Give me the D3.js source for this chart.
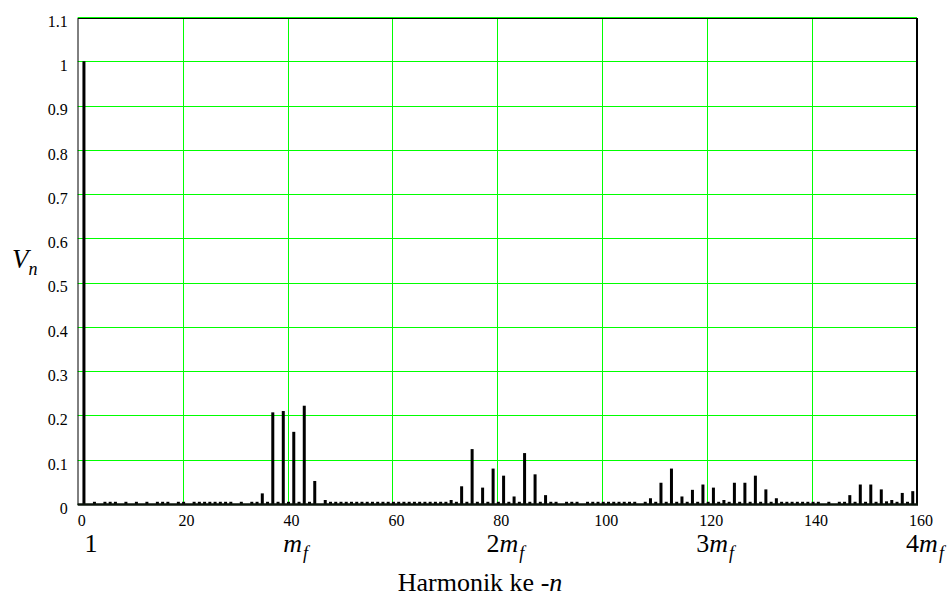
<!DOCTYPE html>
<html>
<head>
<meta charset="utf-8">
<script src="https://cdn.jsdelivr.net/npm/d3@7"></script>
</head>
<body style="margin:0">
<svg width="951" height="596"></svg>
<script>
// harmonic amplitudes V_n for n = 1 .. 160
var harmonicValues = [
  1.000, 0,     0.005, 0,     0.005, 0.005, 0.005, 0,     0.005, 0,      // 1-10
  0.005, 0,     0.005, 0,     0.005, 0.005, 0.005, 0,     0.005, 0.005,  // 11-20
  0,     0.005, 0.005, 0.005, 0.005, 0.005, 0.005, 0.005, 0.005, 0,      // 21-30
  0.005, 0,     0.005, 0.005, 0.024, 0.005, 0.207, 0.005, 0.210, 0.005,  // 31-40
  0.163, 0.005, 0.222, 0.005, 0.052, 0,     0.009, 0.005, 0.005, 0.005,  // 41-50
  0.005, 0.005, 0.005, 0.005, 0.005, 0.005, 0.005, 0.005, 0.005, 0.005,  // 51-60
  0.005, 0.005, 0.005, 0.005, 0.005, 0.005, 0.005, 0.005, 0.005, 0.005,  // 61-70
  0.009, 0.005, 0.040, 0.005, 0.124, 0.005, 0.037, 0.005, 0.080, 0.005,  // 71-80
  0.064, 0.005, 0.017, 0.005, 0.115, 0.005, 0.067, 0.005, 0.020, 0.005,  // 81-90
  0.005, 0,     0.005, 0.005, 0.005, 0,     0.005, 0.005, 0.005, 0.005,  // 91-100
  0.005, 0.005, 0.005, 0.005, 0.005, 0.005, 0,     0.005, 0.013, 0.005,  // 101-110
  0.048, 0.005, 0.080, 0.005, 0.017, 0.005, 0.032, 0.005, 0.044, 0.005,  // 111-120
  0.037, 0.005, 0.009, 0.005, 0.048, 0.005, 0.048, 0.005, 0.064, 0.005,  // 121-130
  0.033, 0.005, 0.013, 0.005, 0.005, 0.005, 0.005, 0.005, 0.005, 0.005,  // 131-140
  0.005, 0,     0.005, 0,     0.005, 0.005, 0.020, 0.005, 0.044, 0.005,  // 141-150
  0.044, 0.005, 0.033, 0.006, 0.009, 0.005, 0.025, 0.005, 0.029, 0       // 151-160
];

var xTickValues = [0, 20, 40, 60, 80, 100, 120, 140, 160];
var yTickValues = [0, 0.1, 0.2, 0.3, 0.4, 0.5, 0.6, 0.7, 0.8, 0.9, 1, 1.1];
var yTickLabels = ["0", "0.1", "0.2", "0.3", "0.4", "0.5", "0.6", "0.7", "0.8", "0.9", "1", "1.1"];

// multiples of the frequency ratio m_f written under the axis
var markerHarmonics = [1, 40, 80, 120, 160];
var markerPrefix = ["1", "", "2", "3", "4"];
var markerHasMf = [false, true, true, true, true];

var serif = "'Liberation Serif', serif";

var svg = d3.select("svg").style("font-family", serif);

var x = d3.scaleLinear().domain([0, 160]).range([77.7, 917]);
var y = d3.scaleLinear().domain([0, 1.1]).range([504, 17]);

var grid = "#00ff00";

// horizontal grid
svg.append("g")
   .selectAll("line")
   .data(yTickValues)
   .enter()
   .append("line")
   .attr("x1", x(0))
   .attr("x2", x(160))
   .attr("y1", function(d) { return Math.round(y(d)) + 0.5; })
   .attr("y2", function(d) { return Math.round(y(d)) + 0.5; })
   .attr("stroke", grid)
   .attr("stroke-width", 1);

// vertical grid
svg.append("g")
   .selectAll("line")
   .data(xTickValues.slice(1, -1))
   .enter()
   .append("line")
   .attr("x1", function(d) { return Math.round(x(d)) + 0.5; })
   .attr("x2", function(d) { return Math.round(x(d)) + 0.5; })
   .attr("y1", y(1.1))
   .attr("y2", y(0))
   .attr("stroke", grid)
   .attr("stroke-width", 1);

// frame
svg.append("line")
   .attr("x1", 78).attr("x2", 78).attr("y1", 18).attr("y2", 505)
   .attr("stroke", "#000").attr("stroke-width", 1);
svg.append("line")
   .attr("x1", 78).attr("x2", 917).attr("y1", 18.5).attr("y2", 18.5)
   .attr("stroke", "#000").attr("stroke-width", 1);
svg.append("line")
   .attr("x1", 917).attr("x2", 917).attr("y1", 18).attr("y2", 505)
   .attr("stroke", "#000").attr("stroke-width", 2);

// bars
svg.append("g")
   .selectAll("rect")
   .data(harmonicValues)
   .enter()
   .append("rect")
   .attr("x", function(d, i) { return x(i + 1) - 0.5; })
   .attr("y", function(d) { return y(d); })
   .attr("width", 3)
   .attr("height", function(d) { return y(0) - y(d); })
   .attr("fill", "#000");

// baseline
svg.append("line")
   .attr("x1", 77.7).attr("x2", 918).attr("y1", 504.5).attr("y2", 504.5)
   .attr("stroke", "#0b140b").attr("stroke-width", 2.5);

// tick labels
var yAxis = svg.append("g")
   .attr("transform", "translate(" + x(0) + ",0)")
   .call(d3.axisLeft(y)
     .tickValues(yTickValues)
     .tickSize(0)
     .tickPadding(10)
     .tickFormat(function(d, i) { return yTickLabels[i]; }));
yAxis.attr("font-family", null).attr("font-size", null);
yAxis.select(".domain").remove();
yAxis.selectAll("text")
   .attr("dy", "0.58em")
   .style("font-family", serif)
   .attr("font-size", 16)
   .attr("fill", "#000");

var xAxis = svg.append("g")
   .attr("transform", "translate(0," + y(0) + ")")
   .call(d3.axisBottom(x)
     .tickValues(xTickValues)
     .tickSize(0)
     .tickPadding(11));
xAxis.attr("font-family", null).attr("font-size", null);
xAxis.select(".domain").remove();
xAxis.selectAll("text")
   .attr("dx", 3.5)
   .style("font-family", serif)
   .attr("font-size", 16)
   .attr("fill", "#000");

// 1, m_f, 2m_f ... under the axis
var marks = svg.append("g")
   .selectAll("text")
   .data(markerHarmonics)
   .enter()
   .append("text")
   .attr("x", function(d) { return x(d) + 8; })
   .attr("y", 552)
   .attr("text-anchor", "middle")
   .style("font-family", serif)
   .attr("font-size", 26)
   .attr("fill", "#000");

marks.append("tspan")
   .text(function(d, i) { return markerPrefix[i]; });
marks.filter(function(d, i) { return markerHasMf[i]; })
   .append("tspan")
   .attr("font-style", "italic")
   .text("m");
marks.filter(function(d, i) { return markerHasMf[i]; })
   .append("tspan")
   .attr("font-style", "italic")
   .attr("font-size", 18)
   .attr("dx", 1)
   .attr("dy", 7)
   .text("f");

// axis titles
var xTitle = svg.append("text")
   .attr("x", 480)
   .attr("y", 591)
   .attr("text-anchor", "middle")
   .style("font-family", serif)
   .attr("font-size", 26)
   .attr("fill", "#000");
xTitle.append("tspan").text("Harmonik ke -");
xTitle.append("tspan").attr("font-style", "italic").text("n");

var yTitle = svg.append("text")
   .attr("x", 12)
   .attr("y", 268)
   .style("font-family", serif)
   .attr("font-size", 27)
   .attr("font-style", "italic")
   .attr("fill", "#000");
yTitle.append("tspan").text("V");
yTitle.append("tspan")
   .attr("font-size", 18)
   .attr("dy", 7)
   .text("n");
</script>
</body>
</html>
